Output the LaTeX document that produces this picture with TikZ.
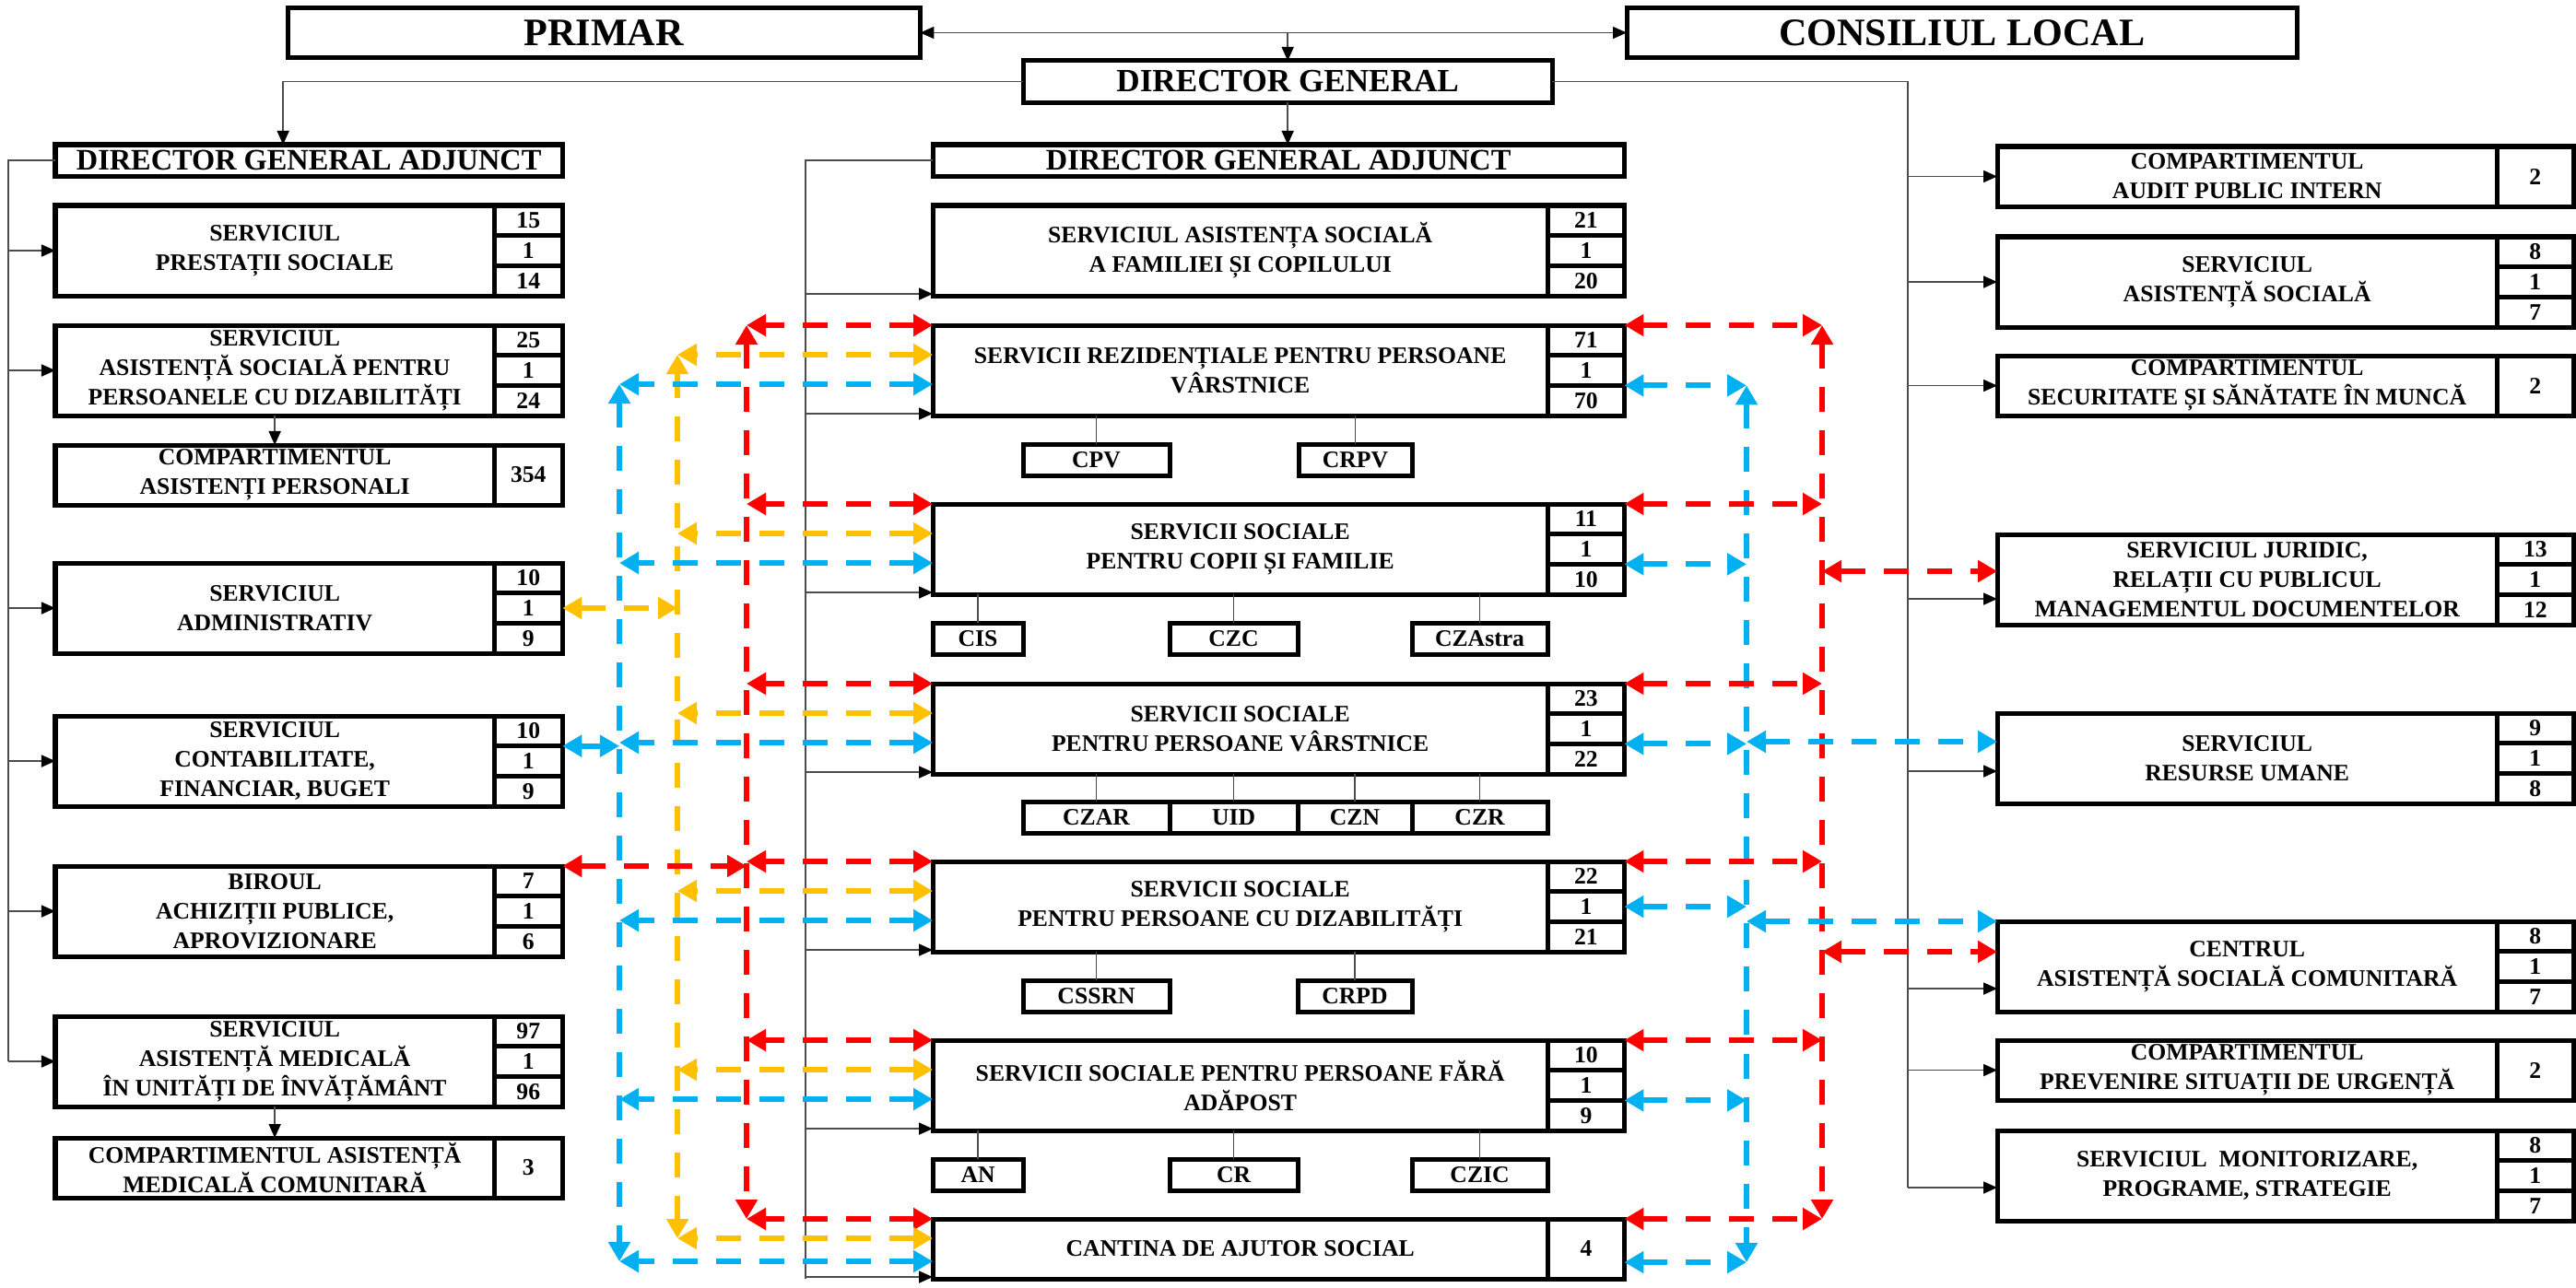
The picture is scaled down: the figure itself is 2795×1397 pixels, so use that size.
\documentclass[tikz,border=0pt]{standalone}
\usepackage{fontspec}
\setmainfont{Liberation Serif}
\usetikzlibrary{arrows.meta}
\definecolor{redline}{RGB}{255,0,0}
\definecolor{ylwline}{RGB}{255,192,0}
\definecolor{bluline}{RGB}{0,176,240}
\newcommand{\srvfont}{\fontsize{7.3}{9.1}\selectfont\bfseries}
\tikzstyle{srv} = [draw, line width=0.05cm, inner sep=0pt, outer sep=0pt, anchor=north west, align=center, font=\srvfont]
\tikzstyle{lsrv} = [srv, minimum width=4.76cm, minimum height=0.98cm]
\tikzstyle{csrv} = [srv, minimum width=6.67cm, minimum height=0.98cm]
\tikzstyle{rsrv} = [srv, minimum width=5.42cm, minimum height=0.98cm]
\tikzstyle{cnt} = [srv, minimum width=0.83cm, minimum height=0.3267cm]
\tikzstyle{lcnt} = [cnt, minimum width=0.74cm]
\tikzstyle{sub} = [srv, minimum height=0.34cm]
\tikzstyle{head} = [srv, font=\fontsize{12}{14}\selectfont\bfseries, minimum height=0.53cm]
\tikzstyle{dga} = [srv, font=\fontsize{9.2}{11}\selectfont\bfseries, minimum height=0.34cm]
\tikzstyle{bus} = [draw=black!70, line width=0.45pt]
\tikzstyle{link} = [bus, -{Triangle[length=0.15cm,width=0.13cm,color=black]}]
\tikzstyle{linkboth} = [bus, {Triangle[length=0.15cm,width=0.13cm,color=black]}-{Triangle[length=0.15cm,width=0.13cm,color=black]}]
\tikzstyle{dlink} = [line width=0.06cm, dash pattern=on 0.27cm off 0.2cm, {Triangle[length=0.21cm,width=0.23cm]}-{Triangle[length=0.21cm,width=0.23cm]}]
\tikzstyle{redlink} = [dlink, draw=redline]
\tikzstyle{ylwlink} = [dlink, draw=ylwline]
\tikzstyle{blulink} = [dlink, draw=bluline]

\begin{document}
\begin{tikzpicture}[x=0.01cm, y=-0.01cm]
\useasboundingbox (0,0) rectangle (2795,1397);

% top of the chart
\node (primar) [head, minimum width=6.86cm] at (312,9) {PRIMAR};
\node (consiliu) [head, minimum width=7.27cm] at (1765,9) {CONSILIUL LOCAL};
\node (dg) [head, font=\fontsize{10}{12}\selectfont\bfseries, minimum width=5.74cm, minimum height=0.45cm] at (1110,66) {DIRECTOR GENERAL};
\node (dgal) [dga, minimum width=5.50cm] at (60,157) {DIRECTOR GENERAL ADJUNCT};
\node (dgac) [dga, minimum width=7.50cm] at (1012,157) {DIRECTOR GENERAL ADJUNCT};

% left column
\node (prestatii) [lsrv] at (60,223) {SERVICIUL\\PRESTAȚII SOCIALE};
\node (prestatiitotal) [lcnt] at (prestatii.north east) {15};
\node (prestatiisef) [lcnt] at (prestatiitotal.south west) {1};
\node (prestatiiexec) [lcnt] at (prestatiisef.south west) {14};

\node (dizabl) [lsrv] at (60,353) {SERVICIUL\\ASISTENȚĂ SOCIALĂ PENTRU\\PERSOANELE CU DIZABILITĂȚI};
\node (dizabltotal) [lcnt] at (dizabl.north east) {25};
\node (dizablsef) [lcnt] at (dizabltotal.south west) {1};
\node (dizablexec) [lcnt] at (dizablsef.south west) {24};

\node (asistpers) [lsrv, minimum height=0.65cm] at (60,483) {COMPARTIMENTUL\\ASISTENȚI PERSONALI};
\node (asistperstotal) [lcnt, minimum height=0.65cm] at (asistpers.north east) {354};

\node (admin) [lsrv] at (60,611) {SERVICIUL\\ADMINISTRATIV};
\node (admintotal) [lcnt] at (admin.north east) {10};
\node (adminsef) [lcnt] at (admintotal.south west) {1};
\node (adminexec) [lcnt] at (adminsef.south west) {9};

\node (contab) [lsrv] at (60,777) {SERVICIUL\\CONTABILITATE,\\FINANCIAR, BUGET};
\node (contabtotal) [lcnt] at (contab.north east) {10};
\node (contabsef) [lcnt] at (contabtotal.south west) {1};
\node (contabexec) [lcnt] at (contabsef.south west) {9};

\node (biroul) [lsrv] at (60,940) {BIROUL\\ACHIZIȚII PUBLICE,\\APROVIZIONARE};
\node (biroultotal) [lcnt] at (biroul.north east) {7};
\node (biroulsef) [lcnt] at (biroultotal.south west) {1};
\node (biroulexec) [lcnt] at (biroulsef.south west) {6};

\node (medical) [lsrv] at (60,1103) {SERVICIUL\\ASISTENȚĂ MEDICALĂ\\ÎN UNITĂȚI DE ÎNVĂȚĂMÂNT};
\node (medicaltotal) [lcnt] at (medical.north east) {97};
\node (medicalsef) [lcnt] at (medicaltotal.south west) {1};
\node (medicalexec) [lcnt] at (medicalsef.south west) {96};

\node (comunitara) [lsrv, minimum height=0.65cm] at (60,1235) {COMPARTIMENTUL ASISTENȚĂ\\MEDICALĂ COMUNITARĂ};
\node (comunitaratotal) [lcnt, minimum height=0.65cm] at (comunitara.north east) {3};

% middle column
\node (familie) [csrv] at (1012,223) {SERVICIUL ASISTENȚA SOCIALĂ\\A FAMILIEI ȘI COPILULUI};
\node (familietotal) [cnt] at (familie.north east) {21};
\node (familiesef) [cnt] at (familietotal.south west) {1};
\node (familieexec) [cnt] at (familiesef.south west) {20};

\node (rezid) [csrv] at (1012,353) {SERVICII REZIDENȚIALE PENTRU PERSOANE\\VÂRSTNICE};
\node (rezidtotal) [cnt] at (rezid.north east) {71};
\node (rezidsef) [cnt] at (rezidtotal.south west) {1};
\node (rezidexec) [cnt] at (rezidsef.south west) {70};
\node (cpv) [sub, minimum width=1.59cm] at (1110,482) {CPV};
\node (crpv) [sub, minimum width=1.23cm] at (1409,482) {CRPV};

\node (copii) [csrv] at (1012,547) {SERVICII SOCIALE\\PENTRU COPII ȘI FAMILIE};
\node (copiitotal) [cnt] at (copii.north east) {11};
\node (copiisef) [cnt] at (copiitotal.south west) {1};
\node (copiiexec) [cnt] at (copiisef.south west) {10};
\node (cis) [sub, minimum width=0.98cm] at (1012,676) {CIS};
\node (czc) [sub, minimum width=1.39cm] at (1269,676) {CZC};
\node (czastra) [sub, minimum width=1.47cm] at (1532,676) {CZAstra};

\node (varst) [csrv] at (1012,742) {SERVICII SOCIALE\\PENTRU PERSOANE VÂRSTNICE};
\node (varsttotal) [cnt] at (varst.north east) {23};
\node (varstsef) [cnt] at (varsttotal.south west) {1};
\node (varstexec) [cnt] at (varstsef.south west) {22};
\node (czar) [sub, minimum width=1.59cm] at (1110,870) {CZAR};
\node (uid) [sub, minimum width=1.39cm] at (1269,870) {UID};
\node (czn) [sub, minimum width=1.24cm] at (1408,870) {CZN};
\node (czr) [sub, minimum width=1.47cm] at (1532,870) {CZR};

\node (dizabc) [csrv] at (1012,935) {SERVICII SOCIALE\\PENTRU PERSOANE CU DIZABILITĂȚI};
\node (dizabctotal) [cnt] at (dizabc.north east) {22};
\node (dizabcsef) [cnt] at (dizabctotal.south west) {1};
\node (dizabcexec) [cnt] at (dizabcsef.south west) {21};
\node (cssrn) [sub, minimum width=1.59cm] at (1110,1064) {CSSRN};
\node (crpd) [sub, minimum width=1.24cm] at (1408,1064) {CRPD};

\node (adapost) [csrv] at (1012,1129) {SERVICII SOCIALE PENTRU PERSOANE FĂRĂ\\ADĂPOST};
\node (adaposttotal) [cnt] at (adapost.north east) {10};
\node (adapostsef) [cnt] at (adaposttotal.south west) {1};
\node (adapostexec) [cnt] at (adapostsef.south west) {9};
\node (an) [sub, minimum width=0.98cm] at (1012,1258) {AN};
\node (cr) [sub, minimum width=1.39cm] at (1269,1258) {CR};
\node (czic) [sub, minimum width=1.47cm] at (1532,1258) {CZIC};

\node (cantina) [csrv, minimum height=0.65cm] at (1012,1323) {CANTINA DE AJUTOR SOCIAL};
\node (cantinatotal) [cnt, minimum height=0.65cm] at (cantina.north east) {4};

% right column
\node (audit) [rsrv, minimum height=0.65cm] at (2167,159) {COMPARTIMENTUL\\AUDIT PUBLIC INTERN};
\node (audittotal) [cnt, minimum height=0.65cm] at (audit.north east) {2};

\node (asistsoc) [rsrv] at (2167,257) {SERVICIUL\\ASISTENȚĂ SOCIALĂ};
\node (asistsoctotal) [cnt] at (asistsoc.north east) {8};
\node (asistsocsef) [cnt] at (asistsoctotal.south west) {1};
\node (asistsocexec) [cnt] at (asistsocsef.south west) {7};

\node (securitate) [rsrv, minimum height=0.65cm] at (2167,386) {COMPARTIMENTUL\\SECURITATE ȘI SĂNĂTATE ÎN MUNCĂ};
\node (securitatetotal) [cnt, minimum height=0.65cm] at (securitate.north east) {2};

\node (juridic) [rsrv] at (2167,580) {SERVICIUL JURIDIC,\\RELAȚII CU PUBLICUL\\MANAGEMENTUL DOCUMENTELOR};
\node (juridictotal) [cnt] at (juridic.north east) {13};
\node (juridicsef) [cnt] at (juridictotal.south west) {1};
\node (juridicexec) [cnt] at (juridicsef.south west) {12};

\node (resurse) [rsrv] at (2167,774) {SERVICIUL\\RESURSE UMANE};
\node (resursetotal) [cnt] at (resurse.north east) {9};
\node (resursesef) [cnt] at (resursetotal.south west) {1};
\node (resurseexec) [cnt] at (resursesef.south west) {8};

\node (centrul) [rsrv] at (2167,1000) {CENTRUL\\ASISTENȚĂ SOCIALĂ COMUNITARĂ};
\node (centrultotal) [cnt] at (centrul.north east) {8};
\node (centrulsef) [cnt] at (centrultotal.south west) {1};
\node (centrulexec) [cnt] at (centrulsef.south west) {7};

\node (prevenire) [rsrv, minimum height=0.65cm] at (2167,1129) {COMPARTIMENTUL\\PREVENIRE SITUAȚII DE URGENȚĂ};
\node (prevenireotal) [cnt, minimum height=0.65cm] at (prevenire.north east) {2};

\node (monitor) [rsrv] at (2167,1227) {SERVICIUL\ \ MONITORIZARE,\\PROGRAME, STRATEGIE};
\node (monitortotal) [cnt] at (monitor.north east) {8};
\node (monitorsef) [cnt] at (monitortotal.south west) {1};
\node (monitorexec) [cnt] at (monitorsef.south west) {7};

% bus lines
\coordinate (leftbus) at (9,0);
\coordinate (midbus) at (874,0);
\coordinate (rightbus) at (2070,1289);

\draw [linkboth] (primar.east) -- (consiliu.west);
\draw [link] (primar.east -| dg.north) -- (dg.north);
\draw [link] (dg.south) -- (dg.south |- dgac.north);
\draw [link] (dg.west) -| ([xshift=-0.28cm]dgal.north);
\draw [bus] (dg.east) -| (rightbus);

\draw [bus] (dgal.west) -| (medical.west -| leftbus);
\draw [link] (prestatii.west -| leftbus) -- (prestatii.west);
\draw [link] (dizabl.west -| leftbus) -- (dizabl.west);
\draw [link] (admin.west -| leftbus) -- (admin.west);
\draw [link] (contab.west -| leftbus) -- (contab.west);
\draw [link] (biroul.west -| leftbus) -- (biroul.west);
\draw [link] (medical.west -| leftbus) -- (medical.west);
\draw [link] (dizabl.south) -- (asistpers.north);
\draw [link] (medical.south) -- (comunitara.north);

\draw [bus] (dgac.west) -| (cantina.south west -| midbus);
\draw [link] ([yshift=0.02cm]familie.south west -| midbus) -- ([yshift=0.02cm]familie.south west);
\draw [link] ([yshift=0.02cm]rezid.south west -| midbus) -- ([yshift=0.02cm]rezid.south west);
\draw [link] ([yshift=0.02cm]copii.south west -| midbus) -- ([yshift=0.02cm]copii.south west);
\draw [link] ([yshift=0.02cm]varst.south west -| midbus) -- ([yshift=0.02cm]varst.south west);
\draw [link] ([yshift=0.02cm]dizabc.south west -| midbus) -- ([yshift=0.02cm]dizabc.south west);
\draw [link] ([yshift=0.02cm]adapost.south west -| midbus) -- ([yshift=0.02cm]adapost.south west);
\draw [link] ([yshift=0.02cm]cantina.south west -| midbus) -- ([yshift=0.02cm]cantina.south west);

\draw [link] (audit.west -| rightbus) -- (audit.west);
\draw [link] (asistsoc.west -| rightbus) -- (asistsoc.west);
\draw [link] (securitate.west -| rightbus) -- (securitate.west);
\draw [link] ([yshift=-0.21cm]juridic.west -| rightbus) -- ([yshift=-0.21cm]juridic.west);
\draw [link] ([yshift=-0.14cm]resurse.west -| rightbus) -- ([yshift=-0.14cm]resurse.west);
\draw [link] ([yshift=-0.24cm]centrul.west -| rightbus) -- ([yshift=-0.24cm]centrul.west);
\draw [link] (prevenire.west -| rightbus) -- (prevenire.west);
\draw [link] (rightbus) -- (rightbus -| monitor.west);

% sub units
\draw [bus] (cpv.north) -- (cpv.north |- rezid.south);
\draw [bus] (crpv.north) -- (crpv.north |- rezid.south);
\draw [bus] (cis.north) -- (cis.north |- copii.south);
\draw [bus] (czc.north) -- (czc.north |- copii.south);
\draw [bus] (czastra.north) -- (czastra.north |- copii.south);
\draw [bus] (czar.north) -- (czar.north |- varst.south);
\draw [bus] (uid.north) -- (uid.north |- varst.south);
\draw [bus] (czn.north) -- (czn.north |- varst.south);
\draw [bus] (czr.north) -- (czr.north |- varst.south);
\draw [bus] (cssrn.north) -- (cssrn.north |- dizabc.south);
\draw [bus] (crpd.north) -- (crpd.north |- dizabc.south);
\draw [bus] (an.north) -- (an.north |- adapost.south);
\draw [bus] (cr.north) -- (cr.north |- adapost.south);
\draw [bus] (czic.north) -- (czic.north |- adapost.south);

% cooperation lines, west side
\coordinate (bluwest) at (672,0);
\coordinate (ylwwest) at (735,0);
\coordinate (redwest) at (810,0);

\draw [blulink] ([yshift=-0.64cm]rezid.north west -| bluwest) -- ([yshift=-0.46cm]cantina.north west -| bluwest);
\draw [ylwlink] ([yshift=-0.32cm]rezid.north west -| ylwwest) -- ([yshift=-0.21cm]cantina.north west -| ylwwest);
\draw [redlink] (rezid.north west -| redwest) -- (cantina.north west -| redwest);

\draw [redlink] (rezid.north west) -- (rezid.north west -| redwest);
\draw [ylwlink] ([yshift=-0.32cm]rezid.north west) -- ([yshift=-0.32cm]rezid.north west -| ylwwest);
\draw [blulink] ([yshift=-0.64cm]rezid.north west) -- ([yshift=-0.64cm]rezid.north west -| bluwest);

\draw [redlink] (copii.north west) -- (copii.north west -| redwest);
\draw [ylwlink] ([yshift=-0.32cm]copii.north west) -- ([yshift=-0.32cm]copii.north west -| ylwwest);
\draw [blulink] ([yshift=-0.64cm]copii.north west) -- ([yshift=-0.64cm]copii.north west -| bluwest);

\draw [redlink] (varst.north west) -- (varst.north west -| redwest);
\draw [ylwlink] ([yshift=-0.32cm]varst.north west) -- ([yshift=-0.32cm]varst.north west -| ylwwest);
\draw [blulink] ([yshift=-0.64cm]varst.north west) -- ([yshift=-0.64cm]varst.north west -| bluwest);

\draw [redlink] (dizabc.north west) -- (dizabc.north west -| redwest);
\draw [ylwlink] ([yshift=-0.32cm]dizabc.north west) -- ([yshift=-0.32cm]dizabc.north west -| ylwwest);
\draw [blulink] ([yshift=-0.64cm]dizabc.north west) -- ([yshift=-0.64cm]dizabc.north west -| bluwest);

\draw [redlink] (adapost.north west) -- (adapost.north west -| redwest);
\draw [ylwlink] ([yshift=-0.32cm]adapost.north west) -- ([yshift=-0.32cm]adapost.north west -| ylwwest);
\draw [blulink] ([yshift=-0.64cm]adapost.north west) -- ([yshift=-0.64cm]adapost.north west -| bluwest);

\draw [redlink] (cantina.north west) -- (cantina.north west -| redwest);
\draw [ylwlink] ([yshift=-0.21cm]cantina.north west) -- ([yshift=-0.21cm]cantina.north west -| ylwwest);
\draw [blulink] ([yshift=-0.46cm]cantina.north west) -- ([yshift=-0.46cm]cantina.north west -| bluwest);

\draw [ylwlink] (adminsef.east) -- (adminsef.east -| ylwwest);
\draw [blulink] (contabtotal.south east) -- (contabtotal.south east -| bluwest);
\draw [redlink] (biroultotal.north east) -- (biroultotal.north east -| redwest);

% cooperation lines, east side
\coordinate (blueast) at (1895,0);
\coordinate (redeast) at (1977,0);

\draw [redlink] (rezidtotal.north east -| redeast) -- (cantinatotal.north east -| redeast);
\draw [blulink] (rezidsef.south east -| blueast) -- ([yshift=-0.47cm]cantinatotal.north east -| blueast);

\draw [redlink] (rezidtotal.north east) -- (rezidtotal.north east -| redeast);
\draw [blulink] (rezidsef.south east) -- (rezidsef.south east -| blueast);
\draw [redlink] (copiitotal.north east) -- (copiitotal.north east -| redeast);
\draw [blulink] (copiisef.south east) -- (copiisef.south east -| blueast);
\draw [redlink] (varsttotal.north east) -- (varsttotal.north east -| redeast);
\draw [blulink] (varstsef.south east) -- (varstsef.south east -| blueast);
\draw [redlink] (dizabctotal.north east) -- (dizabctotal.north east -| redeast);
\draw [blulink] (dizabcsef.east) -- (dizabcsef.east -| blueast);
\draw [redlink] (adaposttotal.north east) -- (adaposttotal.north east -| redeast);
\draw [blulink] (adapostsef.south east) -- (adapostsef.south east -| blueast);
\draw [redlink] (cantinatotal.north east) -- (cantinatotal.north east -| redeast);
\draw [blulink] ([yshift=-0.47cm]cantinatotal.north east) -- ([yshift=-0.47cm]cantinatotal.north east -| blueast);

\draw [redlink] ([yshift=-0.40cm]juridic.north west -| redeast) -- ([yshift=-0.40cm]juridic.north west);
\draw [blulink] ([yshift=-0.31cm]resurse.north west -| blueast) -- ([yshift=-0.31cm]resurse.north west);
\draw [blulink] (centrul.north west -| blueast) -- (centrul.north west);
\draw [redlink] ([yshift=-0.33cm]centrul.north west -| redeast) -- ([yshift=-0.33cm]centrul.north west);
\end{tikzpicture}
\end{document}
